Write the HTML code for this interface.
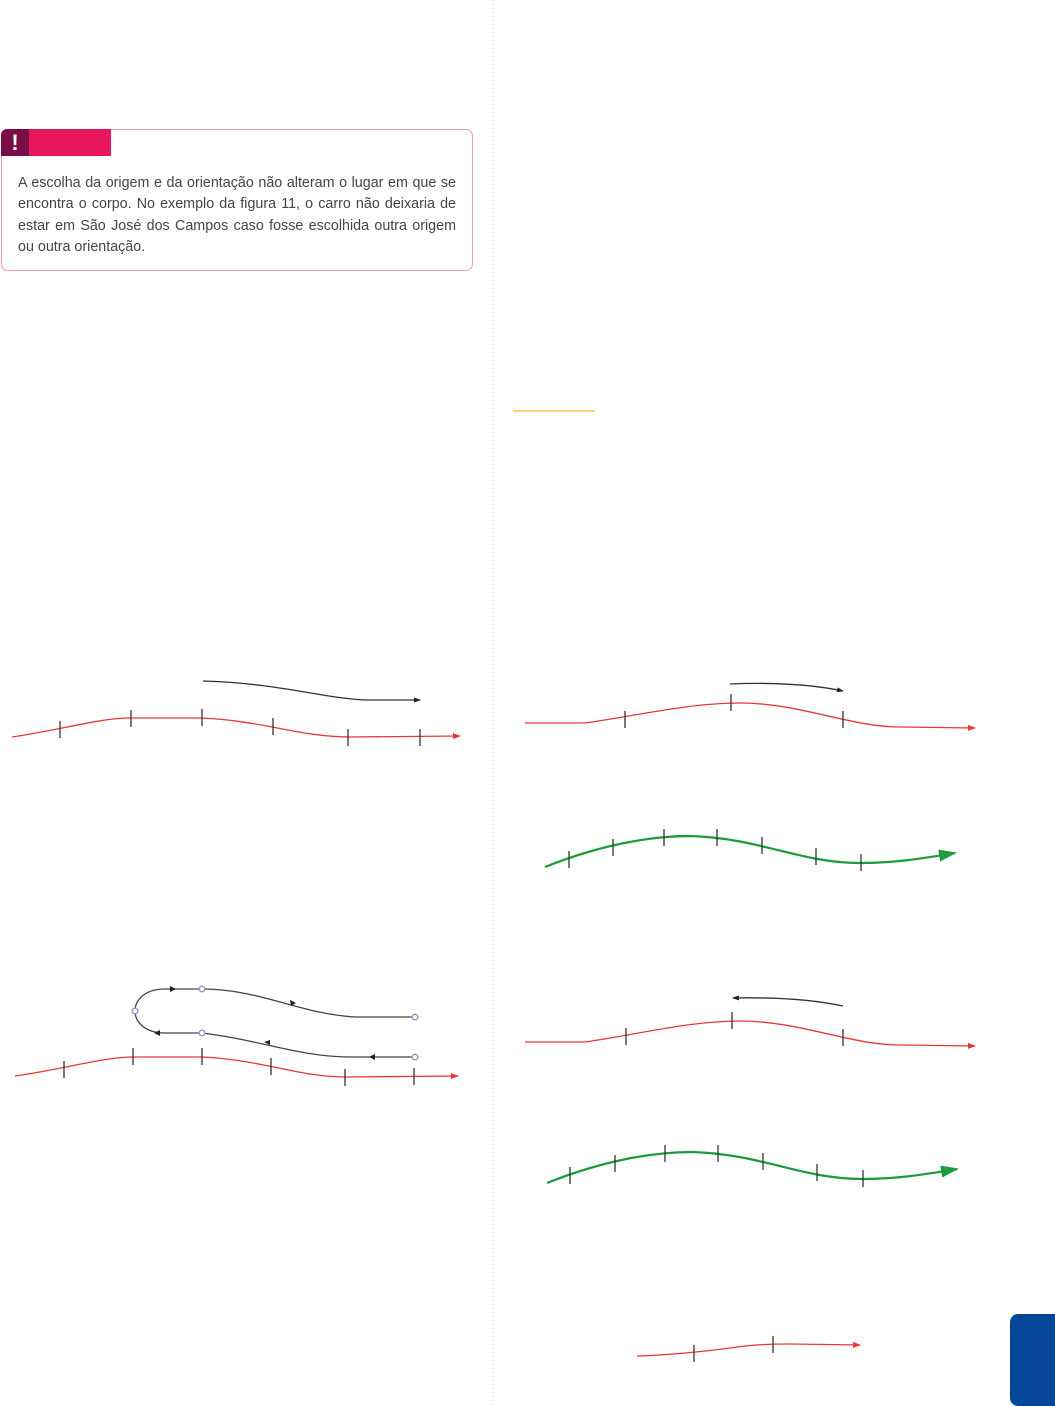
<!DOCTYPE html>
<html><head><meta charset="utf-8"><style>
body{margin:0;width:1055px;height:1406px;background:#fff;position:relative;overflow:hidden;font-family:"Liberation Sans",sans-serif}
.box{position:absolute;left:1px;top:129px;width:472px;height:142px;border:1px solid #ee9db3;border-radius:7px;box-sizing:border-box}
.ex{position:absolute;left:1px;top:129px;width:28px;height:27px;background:#7a0d45;border-top-left-radius:6px;color:#fff;font-weight:bold;font-size:22px;text-align:center;line-height:27px}
.bar{position:absolute;left:29px;top:129px;width:82px;height:27px;background:#e8175d}
.txt{position:absolute;left:18px;top:173px;width:438px;font-size:14.3px;line-height:21.3px;color:#444;text-align:justify}
.tab{position:absolute;left:1010px;top:1314px;width:45px;height:92px;background:#06479a;border-radius:8px 0 0 8px}
</style></head><body>
<div class="box"></div>
<div class="ex">!</div>
<div class="bar"></div>
<div class="txt">A escolha da origem e da orientação não alteram o lugar em que se encontra o corpo. No exemplo da figura 11, o carro não deixaria de estar em São José dos Campos caso fosse escolhida outra origem ou outra orientação.</div>
<div class="tab"></div>
<svg width="1055" height="1406" style="position:absolute;left:0;top:0">
<defs>
<marker id="ar" markerWidth="8" markerHeight="6" refX="7" refY="3" orient="auto" markerUnits="userSpaceOnUse"><path d="M0,0L8,3L0,6z" fill="#e53935"/></marker>
<marker id="ab" markerWidth="7" markerHeight="5" refX="6" refY="2.5" orient="auto" markerUnits="userSpaceOnUse"><path d="M0,0L7,2.5L0,5z" fill="#222"/></marker>
<marker id="ag" markerWidth="18" markerHeight="12" refX="16" refY="6" orient="auto" markerUnits="userSpaceOnUse"><path d="M0,0L18,6L0,12z" fill="#1b9a3e"/></marker>
</defs>
<line x1="493" y1="0" x2="493" y2="1406" stroke="#ccc" stroke-dasharray="1,3"/>
<line x1="513" y1="411" x2="595" y2="411" stroke="#f2c94c" stroke-width="1.5"/>
<g fill="none" stroke-width="1.3">
<path d="M12,737 C60,730 100,718 130,718 L200,718 C260,720 300,737 350,737 L460,736" stroke="#e53935" marker-end="url(#ar)"/>
<path d="M203,681 C280,683 330,700 370,700 L420,700" stroke="#333" marker-end="url(#ab)"/>
<g stroke="#333"><path d="M60,721v17M131,710v17M202,709v17M273,718v17M348,729v17M420,729v17"/></g>
<path d="M15,1076 C65,1069 103,1057 133,1057 L203,1057 C262,1060 300,1077 345,1077 L458,1076" stroke="#e53935" marker-end="url(#ar)"/>
<g stroke="#333"><path d="M64,1061v17M133,1048v17M202,1048v17M271,1058v17M345,1069v17M414,1068v17"/></g>
<path d="M415,1017 L355,1017 C300,1014 260,989 202,989 L165,989 C145,989 135,1000 135,1011 C135,1022 145,1033 165,1033 L202,1033 C260,1040 300,1057 350,1057 L415,1057" stroke="#444"/>
<g fill="#222" stroke="none"><path d="M170,986l6,3l-6,3z"/><path d="M290,1000l6,3l-5,3z"/><path d="M160,1030l-6,3l6,3z"/><path d="M270,1040l-6,2l6,3z"/><path d="M375,1054l-6,3l6,3z"/></g>
<g fill="#fff" stroke="#9a95cc" stroke-width="1.5"><circle cx="202" cy="989" r="2.8"/><circle cx="135" cy="1011" r="2.8"/><circle cx="202" cy="1033" r="2.8"/><circle cx="415" cy="1017" r="2.8"/><circle cx="415" cy="1057" r="2.8"/></g>
<path d="M525,723 L585,723 C640,715 690,703 740,703 C800,703 850,727 900,727 L975,728" stroke="#e53935" marker-end="url(#ar)"/>
<g stroke="#333"><path d="M625,711v17M731,694v17M843,711v17"/></g>
<path d="M730,684 C780,682 815,685 843,691" stroke="#333" marker-end="url(#ab)"/>
<path d="M545,867 C600,845 650,836 690,836 C760,838 800,863 860,863 C900,863 930,857 955,853" stroke="#1b9a3e" stroke-width="2.2" marker-end="url(#ag)"/>
<g stroke="#333"><path d="M569,851v17M613,839v17M664,829v17M717,829v17M762,837v17M816,848v17M861,854v17"/></g>
<path d="M525,1042 L585,1042 C640,1034 690,1021 740,1021 C800,1021 850,1045 900,1045 L975,1046" stroke="#e53935" marker-end="url(#ar)"/>
<g stroke="#333"><path d="M626,1028v17M732,1012v17M843,1029v17"/></g>
<path d="M843,1006 C815,1000 780,997 733,998" stroke="#333" marker-end="url(#ab)"/>
<path d="M547,1183 C602,1161 652,1152 692,1152 C762,1154 802,1179 862,1179 C902,1179 932,1173 957,1169" stroke="#1b9a3e" stroke-width="2.2" marker-end="url(#ag)"/>
<g stroke="#333"><path d="M570,1167v17M615,1155v17M665,1145v17M718,1145v17M763,1153v17M817,1164v17M863,1170v17"/></g>
<path d="M637,1356 C670,1355 700,1352 730,1348 C750,1345 765,1344 790,1344 L860,1345" stroke="#e53935" marker-end="url(#ar)"/>
<g stroke="#333"><path d="M694,1345v17M773,1336v17"/></g>
</g>
</svg>
</body></html>
